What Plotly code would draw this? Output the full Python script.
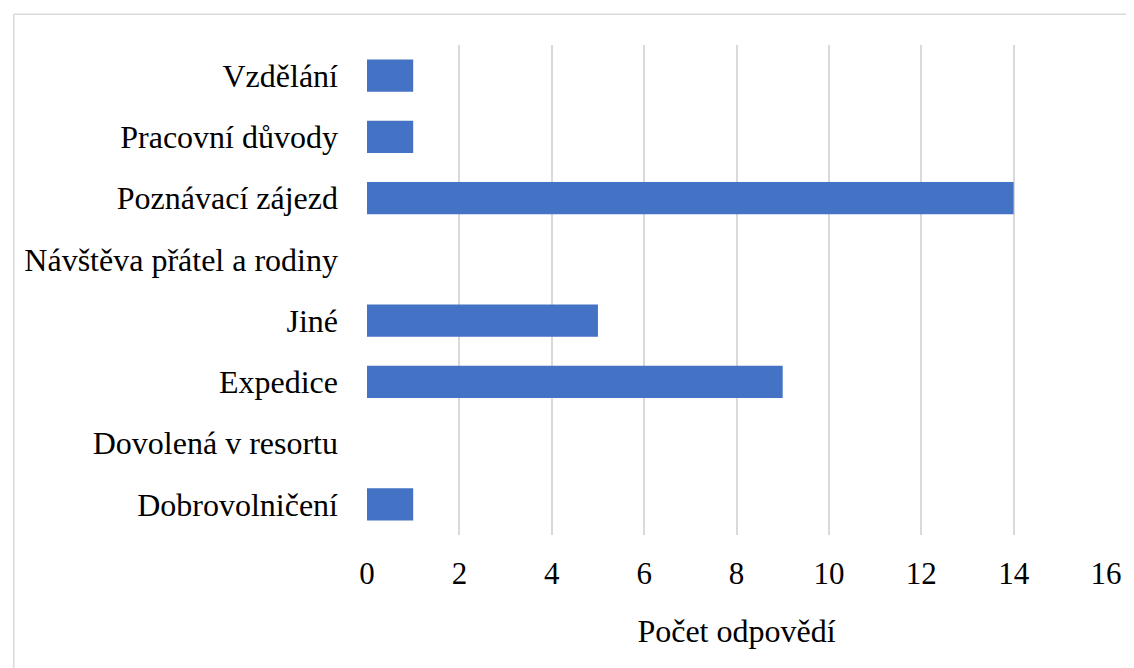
import plotly.graph_objects as go

categories = ["Dobrovolničení", "Dovolená v resortu", "Expedice", "Jiné",
              "Návštěva přátel a rodiny", "Poznávací zájezd",
              "Pracovní důvody", "Vzdělání"]
counts = [1, 0, 9, 5, 0, 14, 1, 1]
x_ticks = [0, 2, 4, 6, 8, 10, 12, 14, 16]

fig = go.Figure()
fig.add_trace(go.Bar(y=categories, x=counts, orientation="h",
                     marker=dict(color="#4472C4", line=dict(width=0))))

# chart frame: only top and left edges are visible in the crop
fig.add_shape(type="line", xref="paper", yref="paper",
              x0=-0.478, x1=1.05, y0=1.063, y1=1.063,
              line=dict(color="#d9d9d9", width=1.5), layer="below")
fig.add_shape(type="line", xref="paper", yref="paper",
              x0=-0.478, x1=-0.478, y0=-0.3, y1=1.063,
              line=dict(color="#d9d9d9", width=1.5), layer="below")

# page body has an 8px margin, so the figure is 8px smaller
fig.update_layout(
    width=1126, height=660,
    margin=dict(l=359, r=22, t=37, b=133),
    paper_bgcolor="white", plot_bgcolor="white",
    font=dict(family="Liberation Serif", size=32, color="black"),
    bargap=0.47,
    showlegend=False,
)
fig.update_xaxes(range=[0, 16], tickvals=x_ticks, showgrid=True,
                 gridcolor="#d9d9d9", gridwidth=2, zeroline=False,
                 showline=False, ticks="", ticklabelstandoff=17,
                 title=dict(text="Počet odpovědí", standoff=29,
                            font=dict(size=32)),
                 tickfont=dict(size=31))
fig.update_yaxes(showgrid=False, zeroline=False, showline=False,
                 ticks="", ticklabelstandoff=28, tickfont=dict(size=32))

fig.write_html("out.html")
